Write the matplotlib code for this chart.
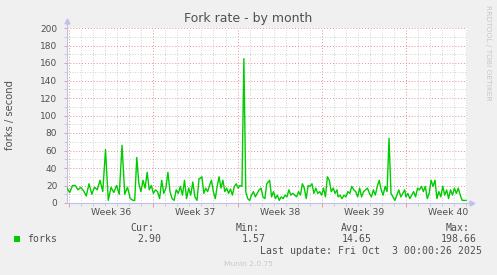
import numpy as np
import matplotlib.pyplot as plt
from matplotlib.patches import Rectangle
from matplotlib.transforms import blended_transform_factory

# fork rate readings (forks / second) in six stretches
seg1 = [17, 12, 20, 20, 15, 18, 14, 8, 22, 10, 18, 15, 26, 13, 61, 3, 18, 12, 20, 10, 66, 10, 18, 5, 3]
seg2 = [3, 52, 22, 13, 26, 17, 35, 15, 20, 11, 15, 13, 5, 26, 11, 17, 35, 13, 5, 3, 15, 11, 19, 9,
        26, 5, 17, 9, 24, 7, 3, 28]
seg3 = [28, 30, 11, 17, 13, 20, 26, 13, 5, 19, 30, 17, 26, 13, 17, 11, 16, 9, 19, 22, 17, 20, 19,
        165, 13, 5, 3, 9, 13, 7, 11, 15, 17, 7, 5, 22]
seg4 = [26, 7, 13, 5, 9, 3, 7, 5, 9, 7, 15, 9, 11, 9, 7, 13, 9, 22, 17, 5, 20, 19, 22, 11, 17, 11,
        13, 9, 17, 7, 30, 26, 13, 17, 11, 15]
seg5 = [7, 9, 5, 9, 7, 13, 11, 19, 15, 13, 7, 17, 7, 13, 15, 17, 11, 7, 15, 9, 19, 26, 15, 9, 19,
        13, 74, 11, 7, 3, 9, 15, 7, 11, 15]
seg6 = [7, 11, 5, 9, 13, 7, 17, 15, 19, 13, 19, 5, 11, 26, 19, 26, 5, 13, 7, 19, 9, 15, 5, 15, 9,
        17, 11, 17, 9, 3, 3, 3]
# days since Mon 1 Sep 2025 covered by each stretch
seg_start = [-0.18, 5.45, 10.88, 16.67, 22.36, 28.0]
seg_end = [5.31, 10.80, 16.43, 22.27, 27.90, 33.0]

weeks = ['Week 36', 'Week 37', 'Week 38', 'Week 39', 'Week 40']
legend_name = 'forks'
stats = {'Cur:': '2.90', 'Min:': '1.57', 'Avg:': '14.65', 'Max:': '198.66'}

segs = [seg1, seg2, seg3, seg4, seg5, seg6]
days = np.concatenate([np.linspace(a, b, len(s)) for a, b, s in zip(seg_start, seg_end, segs)])
forks = np.concatenate(segs)

W, H = 497, 275
fig = plt.figure(figsize=(W / 100, H / 100), dpi=100, facecolor='#F0F0F0')
ax = fig.add_axes([67 / W, 1 - 203 / H, 400 / W, 175 / H])
ax.set_facecolor('white')
ax.set_xlim(-0.18, 33.08)
ax.set_ylim(0, 200)
for s in ax.spines.values():
    s.set_visible(False)

txt = '#505050'
ax.set_yticks(np.arange(0, 201, 20))
ax.set_yticks(np.arange(0, 201, 10), minor=True)
ax.set_xticks([0, 7, 14, 21, 28])
ax.set_xticks(np.arange(0, 34, 1), minor=True)
ax.set_xticklabels([])
ax.tick_params(axis='y', which='major', length=2, width=0.6, color='#E09090', labelsize=6.5,
               labelcolor=txt, pad=5)
ax.tick_params(axis='both', which='minor', length=2, width=0.6, color='#C8C8C8')
ax.tick_params(axis='x', which='major', length=3, width=0.6, color='#E09090')

ax.grid(which='minor', color='#C4C4C4', linestyle=(0, (1, 2)), linewidth=0.6)
ax.grid(which='major', color='#E09494', linestyle=(0, (1, 2)), linewidth=0.7)
ax.set_axisbelow(True)

tr = blended_transform_factory(ax.transData, fig.transFigure)
for i, w in enumerate(weeks):
    ax.text(3.5 + 7 * i, 1 - 212.5 / H, w, transform=tr, ha='center', va='center',
            fontsize=6.7, color=txt)

ax.plot(days, forks, color='#00CC00', linewidth=1.0, zorder=3)

# axis lines with arrows
axc = '#C0C0EE'
ax.plot([0, 0], [0, 1.04], transform=ax.transAxes, color=axc, lw=0.8, clip_on=False)
ax.plot([0, 1.012], [0, 0], transform=ax.transAxes, color=axc, lw=0.8, clip_on=False)
ax.plot([0], [1.04], marker='^', ms=3.5, color=axc, transform=ax.transAxes, clip_on=False)
ax.plot([1.012], [0], marker='>', ms=3.5, color=axc, transform=ax.transAxes, clip_on=False)


def fx(x):
    return x / W


def fy(y):
    return 1 - y / H


fig.text(fx(248), fy(18.5), 'Fork rate - by month', ha='center', va='center', fontsize=9, color=txt)
fig.text(fx(10), fy(115), 'forks / second', rotation=90, ha='center', va='center',
         fontsize=7.2, color=txt)
fig.text(fx(488), fy(5), 'RRDTOOL / TOBI OETIKER', rotation=-90, ha='center', va='top',
         fontsize=5.4, color='#C8C8C8')

mono = dict(family='DejaVu Sans Mono', fontsize=7.1, color=txt, va='center')
fig.patches.append(Rectangle((fx(14), fy(242)), 6 / W, 6 / H, transform=fig.transFigure,
                             facecolor='#00CC00', edgecolor='none'))
fig.text(fx(27), fy(239.3), legend_name, ha='left', **mono)
label_right = [154, 259.3, 365, 470]
value_right = [161, 266, 371.7, 476.7]
for (lab, val), lx, vx in zip(stats.items(), label_right, value_right):
    fig.text(fx(lx), fy(227.7), lab, ha='right', **mono)
    fig.text(fx(vx), fy(239.3), val, ha='right', **mono)
fig.text(fx(482.3), fy(250.7), 'Last update: Fri Oct  3 00:00:26 2025', ha='right', **mono)
fig.text(fx(248), fy(264), 'Munin 2.0.75', ha='center', va='center', fontsize=5.4, color='#C8C8C8')

fig.savefig('out.png', dpi=100, facecolor=fig.get_facecolor())
